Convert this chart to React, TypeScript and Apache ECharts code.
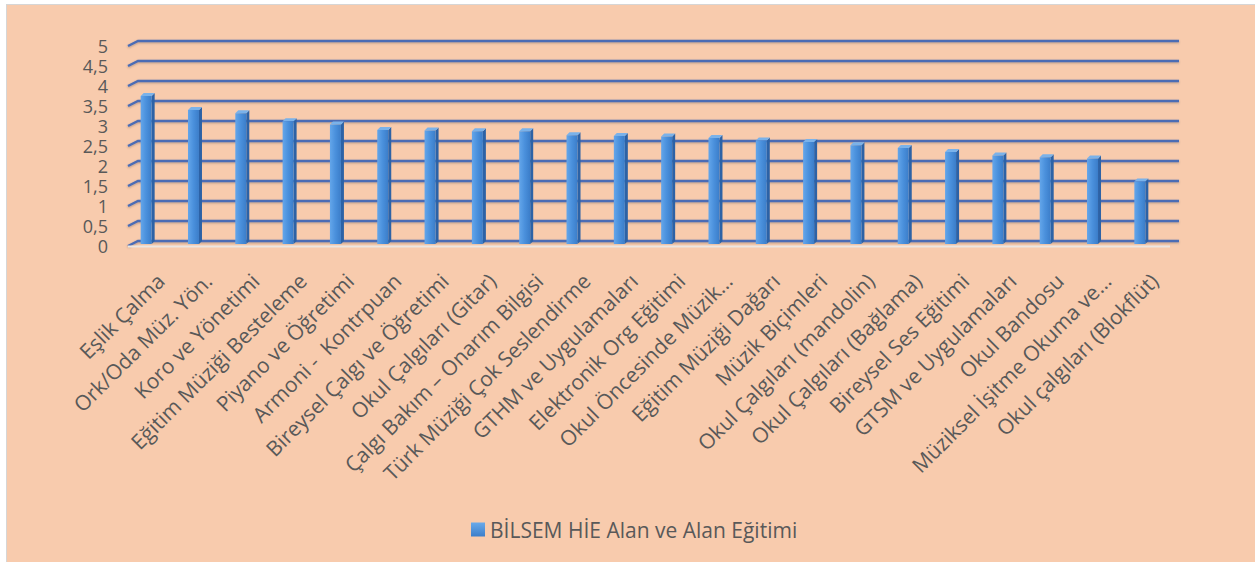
import React, { useEffect, useRef } from "react";
import * as echarts from "echarts";

const categories: string[] = [
  "Eşlik Çalma",
  "Ork/Oda Müz. Yön.",
  "Koro ve Yönetimi",
  "Eğitim Müziği Besteleme",
  "Piyano ve Öğretimi",
  "Armoni -  Kontrpuan",
  "Bireysel Çalgı ve Öğretimi",
  "Okul Çalgıları (Gitar)",
  "Çalgı Bakım – Onarım Bilgisi",
  "Türk Müziği Çok Seslendirme",
  "GTHM ve Uygulamaları",
  "Elektronik Org Eğitimi",
  "Okul Öncesinde Müzik…",
  "Eğitim Müziği Dağarı",
  "Müzik Biçimleri",
  "Okul Çalgıları (mandolin)",
  "Okul Çalgıları (Bağlama)",
  "Bireysel Ses Eğitimi",
  "GTSM ve Uygulamaları",
  "Okul Bandosu",
  "Müziksel İşitme Okuma ve…",
  "Okul çalgıları (Blokflüt)",
];

const seriesName = "BİLSEM HİE Alan ve Alan Eğitimi";

const values: number[] = [
  3.7, 3.35, 3.27, 3.07, 2.99, 2.85, 2.84, 2.82, 2.82, 2.72, 2.7, 2.69, 2.65,
  2.59, 2.55, 2.47, 2.4, 2.3, 2.21, 2.17, 2.14, 1.56,
];

const yTicks: number[] = [0, 0.5, 1, 1.5, 2, 2.5, 3, 3.5, 4, 4.5, 5];

const FONT = "'Open Sans', 'Noto Sans', sans-serif";
const TEXT = "#595959";

export default function App() {
  const ref = useRef<HTMLDivElement>(null);

  useEffect(() => {
    if (!ref.current) return;
    const chart = echarts.init(ref.current, undefined, { renderer: "svg" });

    const barFront = new echarts.graphic.LinearGradient(0, 0, 1, 0, [
      { offset: 0, color: "#64A6EA" },
      { offset: 0.5, color: "#4A90DC" },
      { offset: 1, color: "#3B7DC9" },
    ]);

    const option: any = {
      animation: false,
      backgroundColor: "transparent",
      textStyle: { fontFamily: FONT },
      grid: { left: 137, right: 77, top: 46, bottom: 316, containLabel: false },
      legend: {
        data: [seriesName],
        left: 466,
        top: 514,
        icon: "rect",
        itemWidth: 14,
        itemHeight: 14,
        textStyle: { color: TEXT, fontSize: 21, fontFamily: FONT },
        itemStyle: {
          color: new echarts.graphic.LinearGradient(0, 0, 0, 1, [
            { offset: 0, color: "#6AAAEA" },
            { offset: 1, color: "#3C7ECA" },
          ]),
        },
      },
      xAxis: {
        type: "category",
        data: categories,
        boundaryGap: true,
        axisLine: { show: false },
        axisTick: { show: false },
        splitLine: { show: false },
        axisLabel: {
          interval: 0,
          rotate: 45,
          margin: 31,
          color: TEXT,
          fontSize: 21,
          fontFamily: FONT,
        },
      },
      yAxis: {
        type: "value",
        min: 0,
        max: 5,
        interval: 0.5,
        axisLine: { show: false },
        axisTick: { show: false },
        splitLine: { show: false },
        axisLabel: {
          margin: 29,
          color: TEXT,
          fontSize: 18,
          lineHeight: 18,
          showMinLabel: true,
          showMaxLabel: true,
          fontFamily: FONT,
          formatter: (v: number) => String(v).replace(".", ","),
        },
      },
      series: [
        {
          type: "custom",
          name: "walls",
          silent: true,
          z: 1,
          data: yTicks.map((v) => [0, v]),
          encode: { x: 0, y: 1 },
          renderItem: (params: any, api: any) => {
            const v = api.value(1);
            const p = api.coord([0, v]);
            const cs = params.coordSys;
            const x0 = cs.x;
            const x1 = cs.x + cs.width;
            const y = p[1];
            const lineStyle = {
              stroke: "#4B6CB5",
              lineWidth: 2.5,
              shadowColor: "rgba(60,60,60,0.35)",
              shadowBlur: 2,
              shadowOffsetY: 1,
            };
            const children: any[] = [
              {
                type: "polyline",
                shape: {
                  points: [
                    [x0 - 9, y],
                    [x0 + 1, y - 5],
                    [x1 + 1, y - 5],
                  ],
                },
                style: { ...lineStyle, fill: null },
              },
            ];
            if (v === 0) {
              children.push({
                type: "line",
                shape: { x1: x0 - 9, y1: y + 0.5, x2: x1 - 8, y2: y + 0.5 },
                style: { stroke: "#ECE6E1", lineWidth: 2 },
              });
            }
            return { type: "group", children };
          },
        },
        {
          type: "custom",
          name: seriesName,
          z: 3,
          itemStyle: { color: "#4A90DC" },
          data: values.map((v, i) => [i, v]),
          encode: { x: 0, y: 1 },
          renderItem: (params: any, api: any) => {
            const i = api.value(0);
            const v = api.value(1);
            const top = api.coord([i, v]);
            const base = api.coord([i, 0]);
            const cx = top[0] - 14;
            const yTop = top[1] - 2;
            const yBot = base[1] - 2;
            const L = cx - 6;
            const R = cx + 5;
            const d = 3;
            return {
              type: "group",
              children: [
                {
                  type: "polygon",
                  shape: {
                    points: [
                      [R, yTop],
                      [R + d, yTop - d],
                      [R + d, yBot - d],
                      [R, yBot],
                    ],
                  },
                  style: { fill: "#2C62A6" },
                },
                {
                  type: "polygon",
                  shape: {
                    points: [
                      [L, yTop],
                      [L + d, yTop - d],
                      [R + d, yTop - d],
                      [R, yTop],
                    ],
                  },
                  style: { fill: "#7AB2EA" },
                },
                {
                  type: "rect",
                  shape: { x: L, y: yTop, width: R - L, height: yBot - yTop },
                  style: { fill: barFront },
                },
              ],
            };
          },
        },
      ],
    };

    chart.setOption(option);
    return () => chart.dispose();
  }, []);

  return (
    <div style={{ position: "fixed", left: 0, top: 0, width: 1255, height: 562, background: "#ffffff" }}>
      <div
        style={{
          position: "absolute",
          left: 6,
          top: 4,
          width: 1249,
          height: 558,
          background: "#F8CBAD",
          borderLeft: "1px solid #d6d6d6",
          borderTop: "1px solid #d6d6d6",
          boxSizing: "border-box",
        }}
      />
      <div ref={ref} style={{ position: "absolute", left: 0, top: 0, width: 1255, height: 562 }} />
    </div>
  );
}
